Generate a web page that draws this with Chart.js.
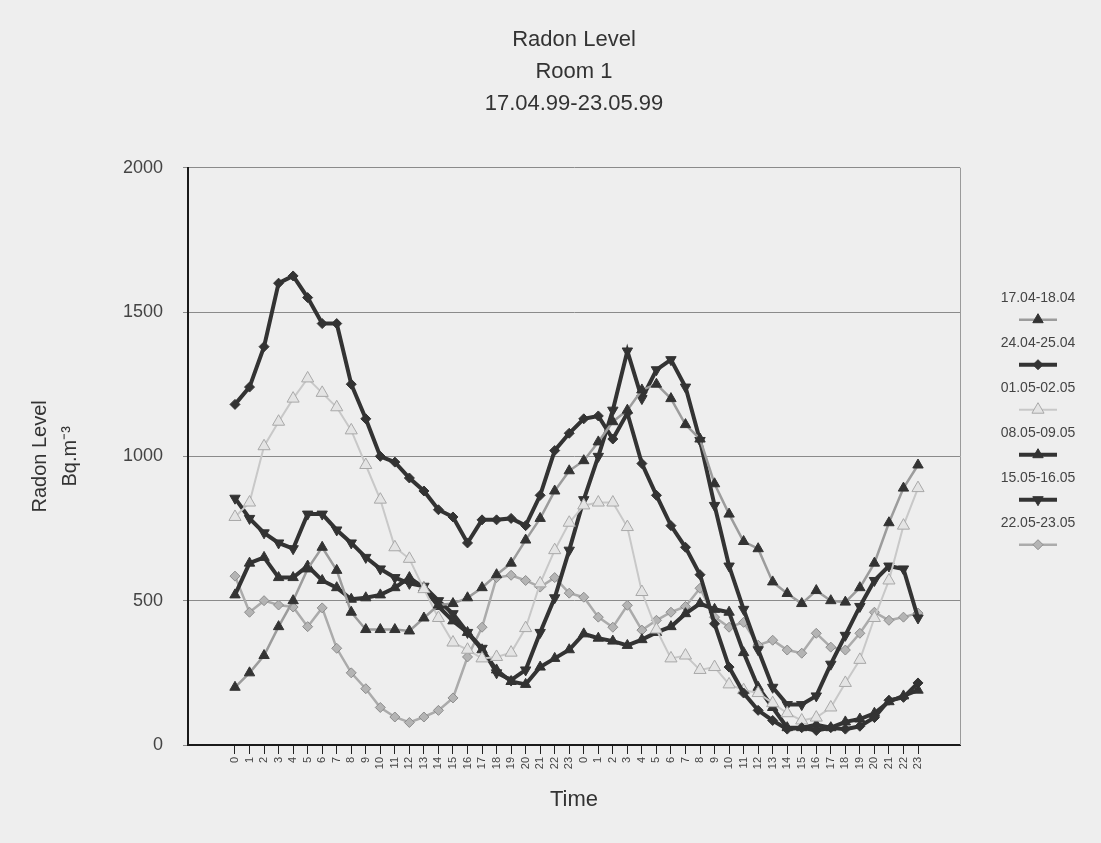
<!DOCTYPE html>
<html>
<head>
<meta charset="utf-8">
<title>Radon Level Room 1</title>
<script src="https://cdn.jsdelivr.net/npm/chart.js@4.4.0/dist/chart.umd.min.js"></script>
<style>
  html, body { margin: 0; padding: 0; background: #eeeeee; }
  #wrap { width: 1101px; height: 843px; position: relative; }
</style>
</head>
<body>
<div id="wrap"><canvas id="radonChart"></canvas></div>
<script>
// hours of the two days shown on the x axis
var hourLabels = ['0','1','2','3','4','5','6','7','8','9','10','11','12','13','14','15','16','17','18','19','20','21','22','23',
                  '0','1','2','3','4','5','6','7','8','9','10','11','12','13','14','15','16','17','18','19','20','21','22','23'];

var seriesNames = ['17.04-18.04', '24.04-25.04', '01.05-02.05', '08.05-09.05', '15.05-16.05', '22.05-23.05'];

// Bq.m-3
var s1704 = [200, 250, 310, 410, 500, 610, 685, 605, 460, 400, 400, 400, 395, 440, 485, 490, 510, 545, 590, 630, 710, 785, 880, 950,
             985, 1050, 1120, 1160, 1230, 1250, 1200, 1110, 1060, 905, 800, 705, 680, 565, 525, 490, 535, 500, 495, 545, 630, 770, 890, 970];
var s2404 = [1180, 1240, 1380, 1600, 1625, 1550, 1460, 1460, 1250, 1130, 1000, 980, 925, 880, 815, 790, 700, 780, 780, 785, 760, 865, 1020, 1080,
             1130, 1140, 1060, 1150, 975, 865, 760, 685, 590, 420, 270, 180, 120, 85, 55, 60, 50, 60, 55, 65, 95, 155, 165, 215];
var s0105 = [790, 840, 1035, 1120, 1200, 1270, 1220, 1170, 1090, 970, 850, 685, 645, 540, 440, 355, 330, 300, 305, 320, 405, 560, 675, 770,
             830, 840, 840, 755, 530, 400, 300, 310, 260, 270, 210, 190, 180, 145, 110, 85, 95, 130, 215, 295, 440, 570, 760, 890];
var s0805 = [520, 630, 650, 580, 580, 620, 570, 545, 505, 510, 520, 545, 580, 545, 480, 430, 390, 330, 260, 220, 210, 270, 300, 330,
             385, 370, 360, 345, 365, 390, 410, 455, 490, 470, 460, 320, 200, 130, 60, 60, 70, 60, 80, 90, 110, 150, 170, 190];
var s1505 = [855, 785, 735, 700, 680, 800, 800, 745, 700, 650, 610, 580, 560, 550, 500, 455, 390, 335, 250, 225, 260, 390, 510, 675,
             850, 1000, 1160, 1365, 1200, 1300, 1335, 1240, 1055, 830, 620, 470, 330, 200, 140, 140, 170, 280, 380, 480, 570, 620, 610, 440];
var s2205 = [585, 460, 500, 485, 478, 410, 475, 335, 250, 195, 130, 97, 78, 97, 120, 163, 305, 408, 580, 588, 570, 547, 580, 526,
             512, 443, 408, 484, 398, 432, 460, 480, 543, 443, 408, 425, 346, 363, 329, 318, 387, 339, 329, 387, 460, 432, 443, 457];

var yTicks = [0, 500, 1000, 1500, 2000];

function toPoints(values) {
  return values.map(function (v, i) { return {x: i, y: v}; });
}

var styles = [
  {line: '#9c9c9c', width: 2.5, style: 'triangle', rot: 0,   fill: '#333333', edge: '#333333', r: 6},
  {line: '#333333', width: 4,   style: 'rectRot',  rot: 0,   fill: '#333333', edge: '#333333', r: 5},
  {line: '#c8c8c8', width: 2,   style: 'triangle', rot: 0,   fill: '#e4e4e4', edge: '#a8a8a8', r: 7},
  {line: '#333333', width: 4,   style: 'triangle', rot: 0,   fill: '#333333', edge: '#333333', r: 6},
  {line: '#333333', width: 4,   style: 'triangle', rot: 180, fill: '#333333', edge: '#333333', r: 6},
  {line: '#ababab', width: 2.5, style: 'rectRot',  rot: 0,   fill: '#b4b4b4', edge: '#8c8c8c', r: 5}
];
var allSeries = [s1704, s2404, s0105, s0805, s1505, s2205];

var datasets = allSeries.map(function (vals, k) {
  var st = styles[k];
  return {
    label: seriesNames[k],
    data: toPoints(vals),
    borderColor: st.line,
    borderWidth: st.width,
    pointStyle: st.style,
    rotation: st.rot,
    pointRadius: st.r,
    pointBackgroundColor: st.fill,
    pointBorderColor: st.edge,
    pointBorderWidth: 1,
    tension: 0
  };
});

// legend: text above a short line sample, drawn on the right side
var sideLegend = {
  id: 'sideLegend',
  afterDraw: function (chart) {
    var ctx = chart.ctx;
    var area = chart.chartArea;
    ctx.save();
    // right frame line of the plot
    ctx.strokeStyle = '#9a9a9a';
    ctx.lineWidth = 1;
    ctx.beginPath();
    ctx.moveTo(area.right + 0.5, area.top);
    ctx.lineTo(area.right + 0.5, area.bottom);
    ctx.stroke();

    var cx = area.right + 78;
    chart.data.datasets.forEach(function (ds, k) {
      var ty = area.top + 130 + k * 45;
      ctx.font = '14px "Liberation Sans", Arial, sans-serif';
      ctx.fillStyle = '#444';
      ctx.textAlign = 'center';
      ctx.textBaseline = 'middle';
      ctx.fillText(ds.label, cx, ty);
      var ly = ty + 22;
      ctx.strokeStyle = ds.borderColor;
      ctx.lineWidth = ds.borderWidth;
      ctx.beginPath();
      ctx.moveTo(cx - 19, ly);
      ctx.lineTo(cx + 19, ly);
      ctx.stroke();
      ctx.fillStyle = ds.pointBackgroundColor;
      ctx.strokeStyle = ds.pointBorderColor;
      ctx.lineWidth = 1;
      Chart.helpers.drawPoint(ctx, {pointStyle: ds.pointStyle, rotation: ds.rotation, radius: ds.pointRadius, borderWidth: 1}, cx, ly);
    });
    ctx.restore();
  }
};

new Chart(document.getElementById('radonChart'), {
  type: 'line',
  data: {datasets: datasets},
  plugins: [sideLegend],
  options: {
    responsive: true,
    maintainAspectRatio: false,
    animation: false,
    layout: {padding: {left: 0, right: 141, top: 0, bottom: 0}},
    plugins: {
      legend: {display: false},
      tooltip: {enabled: false},
      title: {
        display: true,
        fullSize: false,
        text: ['Radon Level', 'Room 1', '17.04.99-23.05.99'],
        color: '#333',
        font: {family: '"Liberation Sans", Arial, sans-serif', size: 22, weight: 'normal', lineHeight: 1.45},
        padding: {top: 24, bottom: 48}
      }
    },
    scales: {
      x: {
        type: 'linear',
        min: -3.234,
        max: 49.89,
        afterFit: function (scale) { scale.height = 98; },
        afterBuildTicks: function (scale) {
          scale.ticks = hourLabels.map(function (h, i) { return {value: i}; });
        },
        ticks: {
          autoSkip: false,
          minRotation: 90,
          maxRotation: 90,
          padding: 3,
          color: '#444',
          font: {family: '"Liberation Sans", Arial, sans-serif', size: 11},
          callback: function (v) { return hourLabels[v]; }
        },
        grid: {drawOnChartArea: false, tickLength: 9, color: '#222', lineWidth: 1},
        border: {color: '#1a1a1a', width: 2},
        title: {
          display: true,
          text: 'Time',
          color: '#333',
          font: {family: '"Liberation Sans", Arial, sans-serif', size: 22, lineHeight: 1.2},
          padding: {top: 0, bottom: 30}
        }
      },
      y: {
        min: 0,
        max: 2000,
        afterFit: function (scale) { scale.width = 188; },
        afterBuildTicks: function (scale) {
          scale.ticks = yTicks.map(function (v) { return {value: v}; });
        },
        ticks: {
          padding: 20,
          color: '#444',
          font: {family: '"Liberation Sans", Arial, sans-serif', size: 18},
          callback: function (v) { return String(v); }
        },
        grid: {color: '#8a8a8a', lineWidth: 1, tickLength: 5},
        border: {color: '#1a1a1a', width: 2},
        title: {
          display: true,
          text: ['Radon Level', 'Bq.m\u207B\u00B3'],
          color: '#333',
          font: {family: '"Liberation Sans", Arial, sans-serif', size: 20, lineHeight: 1.5},
          padding: {top: 25, bottom: 0}
        }
      }
    }
  }
});
</script>
</body>
</html>
